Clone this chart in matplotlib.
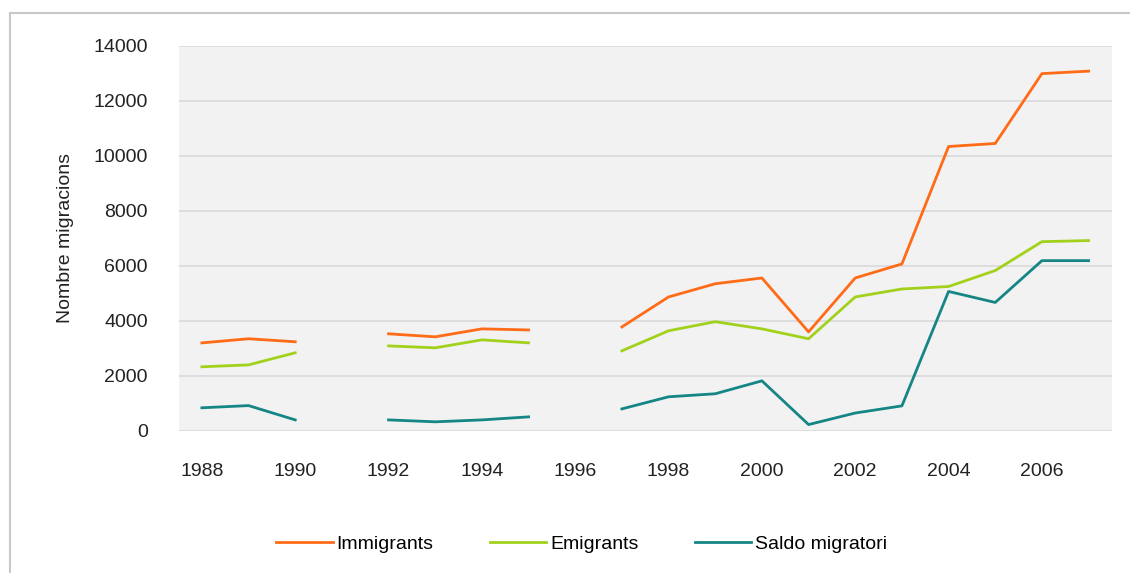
import matplotlib.pyplot as plt
import matplotlib.patches as patches
import numpy as np

plt.rcParams['font.family'] = ['Liberation Sans', 'DejaVu Sans']

years = list(range(1988, 2008))
nan = np.nan
immigrants = [3200, 3350, 3240, nan, 3530, 3420, 3710, 3670, nan, 3780,
              4870, 5350, 5560, 3600, 5560, 6070, 10340, 10450, 12990, 13080]
emigrants = [2330, 2400, 2840, nan, 3090, 3020, 3310, 3200, nan, 2910,
             3640, 3970, 3710, 3350, 4870, 5160, 5250, 5830, 6880, 6920]
saldo = [840, 920, 400, nan, 400, 330, 400, 510, nan, 800,
         1240, 1350, 1820, 230, 650, 910, 5070, 4670, 6190, 6190]

fig = plt.figure(figsize=(11.3, 5.73), dpi=100)
ax = fig.add_axes([0.158, 0.248, 0.826, 0.672])
ax.set_facecolor('#f2f2f2')

ax.plot(years, immigrants, color='#ff6b17', lw=2, label='Immigrants')
ax.plot(years, emigrants, color='#a2d11c', lw=2, label='Emigrants')
ax.plot(years, saldo, color='#158585', lw=2, label='Saldo migratori')

ax.set_xlim(1987.5, 2007.5)
ax.set_ylim(0, 14000)
ax.set_xticks(range(1988, 2008, 2))
ax.set_yticks(range(0, 14001, 2000))
ax.grid(axis='y', color='#d9d9d9', lw=1.2)
ax.set_axisbelow(True)
for s in ax.spines.values():
    s.set_visible(False)
ax.tick_params(length=0, labelsize=14, colors='#222222')
ax.tick_params(axis='x', pad=23)
ax.tick_params(axis='y', pad=22)
ax.set_ylabel('Nombre migracions', fontsize=14, color='#222222', labelpad=14)

ax.legend(loc='upper center', bbox_to_anchor=(0.432, -0.225), ncol=3,
          frameon=False, fontsize=14, handlelength=2.9, columnspacing=2.9,
          handletextpad=0.2)

fig.patches.append(patches.Rectangle((0.0088, -0.05), 1.1, 0.977 + 0.05,
                                     transform=fig.transFigure, fill=False,
                                     edgecolor='#c8c8c8', lw=1.5))

fig.savefig('out.png', dpi=100)
